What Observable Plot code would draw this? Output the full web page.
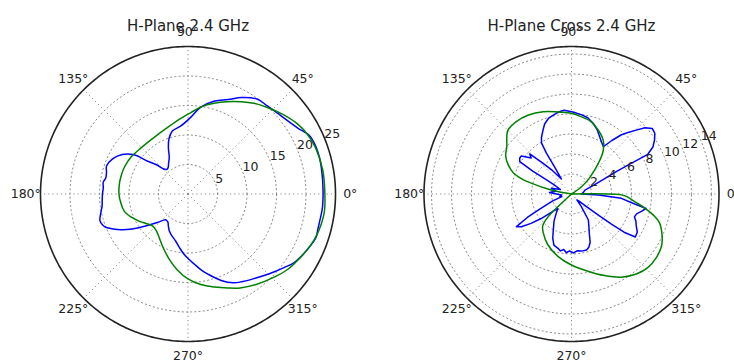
<!DOCTYPE html>
<html>
<head>
<meta charset="utf-8">
<script src="https://cdn.jsdelivr.net/npm/d3@7"></script>
<script src="https://cdn.jsdelivr.net/npm/@observablehq/plot@0.6"></script>
<style>
  html, body { margin: 0; padding: 0; background: #fff; }
  #wrap { display: flex; flex-direction: row; width: 734px; height: 364px; overflow: hidden; }
  #wrap svg { flex: none; }
</style>
</head>
<body>
<div id="wrap"></div>
<script>
// ---------- data (angles in degrees, radius in plot units) ----------
const thetaTicks = [0, 45, 90, 135, 180, 225, 270, 315];

// Left: H-Plane 2.4 GHz
const hTitle = "H-Plane 2.4 GHz";
const hRTicks = [5, 10, 15, 20, 25];
const hRMax = 25;
const hBlueDeg = [0, 7, 14, 21, 26, 31, 40, 48, 54, 61, 67, 74, 82, 88, 96, 104, 109, 113, 117, 122, 127, 131, 134, 137, 141, 144, 149, 155, 161, 165, 169, 172, 176, 180, 185, 188, 192, 197, 200, 202, 205, 208, 212, 215, 219, 223, 229, 233, 235, 238, 243, 249, 255, 261, 266, 271, 275, 280, 284, 291, 297, 302, 308, 313, 318, 323, 327, 331, 335, 341, 345, 349, 354, 360];
const hBlueR   = [22.9, 22.95, 23.1, 23.1, 22.8, 21.7, 20.6, 20.1, 19.9, 18.7, 17.4, 16.4, 14.8, 13.0, 11.6, 11.0, 9.9, 8.5, 7.0, 6.2, 5.6, 5.5, 5.9, 7.2, 8.9, 11.3, 13.0, 14.1, 14.6, 14.3, 14.2, 14.5, 14.4, 14.5, 14.6, 14.7, 15.1, 15.6, 15.4, 15.05, 14.0, 12.9, 11.2, 9.8, 8.3, 7.1, 5.8, 5.8, 5.9, 6.3, 7.0, 7.6, 8.2, 9.2, 10.2, 11.1, 11.9, 13.1, 14.0, 15.7, 16.9, 17.5, 18.2, 18.9, 19.7, 20.6, 21.4, 21.9, 22.3, 22.9, 22.8, 22.8, 22.9, 22.9];
const hGreenDeg = [0, 10, 20, 27, 33, 40, 47.5, 54, 60, 67, 74, 81, 88, 97, 107, 117, 128, 138, 147, 157, 166, 173, 180, 187, 195, 202, 209, 215, 222, 229, 236, 245, 255, 262, 270, 278, 286, 293, 299, 307, 316, 323, 331, 337, 343, 352, 360];
const hGreenR   = [23.2, 23.2, 23.0, 22.6, 22.0, 21.0, 19.9, 19.0, 18.05, 17.0, 16.0, 15.0, 13.8, 12.7, 11.8, 11.3, 11.1, 11.2, 11.5, 11.7, 11.75, 11.75, 11.7, 11.5, 11.2, 10.4, 9.5, 8.7, 8.1, 8.2, 8.8, 10.0, 11.7, 13.0, 14.4, 15.5, 16.4, 17.3, 18.2, 19.2, 20.3, 21.2, 21.9, 22.5, 22.95, 23.3, 23.2];

// Right: H-Plane Cross 2.4 GHz
const cTitle = "H-Plane Cross 2.4 GHz";
const cRTicks = [2, 4, 6, 8, 10, 12, 14];
const cRMax = 14.75;
const cBlueDeg = [0, 8, 16, 22, 25, 26.5, 27.2, 27.5, 30, 33, 36, 39, 42, 45, 48, 50, 53, 56, 60, 64, 68, 73, 78, 83, 89, 95, 99, 103, 107, 111, 114, 118, 120.5, 121.5, 122, 124, 129, 133, 136.2, 138.3, 142.8, 145.4, 148, 149.5, 150.5, 152, 158, 164, 170, 176, 180, 186, 192, 195, 200, 205.7, 208, 210.7, 213, 216, 219, 223, 227, 230, 237, 243, 247, 251, 256, 259, 262, 265, 268, 272, 276, 280, 285, 288, 291, 294, 298, 303, 308, 312, 316, 320, 322, 323, 324, 326, 330, 334, 337, 340, 343, 346, 349, 351, 355, 358, 360];
const cBlueR   = [1.0, 1.2, 1.4, 2.5, 3.8, 5.0, 6.5, 8.6, 9.4, 9.9, 10.3, 10.4, 9.9, 9.0, 8.2, 7.7, 6.7, 5.7, 6.0, 6.4, 6.9, 7.4, 7.8, 8.0, 8.2, 8.4, 8.3, 8.1, 7.9, 7.5, 7.0, 6.4, 5.9, 4.8, 3.2, 1.8, 3.0, 4.3, 5.8, 5.4, 6.3, 6.3, 6.1, 4.5, 3.0, 2.0, 1.2, 2.1, 1.6, 2.2, 1.5, 1.0, 1.2, 1.0, 2.0, 3.7, 5.0, 6.4, 6.0, 5.0, 3.9, 2.5, 2.0, 2.3, 3.2, 4.0, 4.8, 5.4, 5.6, 5.8, 5.6, 5.9, 5.7, 5.9, 5.7, 5.8, 5.8, 5.6, 5.2, 4.4, 3.7, 3.1, 1.6, 0.8, 1.0, 2.0, 3.5, 5.0, 6.5, 7.7, 7.6, 7.2, 7.0, 6.7, 6.8, 7.2, 7.6, 6.4, 5.0, 2.7, 1.0];
const cGreenDeg = [0, 33, 36, 41, 46, 50, 54, 60, 67, 75, 83, 91, 99, 109, 119, 127, 135, 144, 150, 155, 160, 163, 165, 168, 170, 172, 222, 223, 224.2, 228, 234, 245, 258, 270, 282, 292, 301, 309, 316, 323, 330, 335, 341.6, 345, 349, 353, 357, 359, 360];
const cGreenR   = [0, 0, 1.2, 2.3, 3.3, 4.4, 5.4, 6.3, 6.9, 7.5, 7.8, 8.1, 8.3, 8.7, 9.0, 9.1, 9.0, 8.0, 7.6, 7.0, 6.2, 5.2, 4.1, 2.5, 1.3, 0, 0, 1.4, 3.25, 4.3, 4.8, 5.6, 6.4, 7.1, 7.9, 8.8, 9.7, 10.3, 10.6, 10.6, 10.4, 10.0, 9.3, 8.6, 7.5, 6.4, 5.6, 5.0, 0];

const blueColor = "#0000ff";
const greenColor = "#008000";

// ---------- helpers ----------
const rad = d => d * Math.PI / 180;
const rows = (deg, r) => deg.map((t, i) => ({t, r: r[i]}));
const px = d => d.r * Math.cos(rad(d.t));
const py = d => d.r * Math.sin(rad(d.t));

function polarChart({title, rTicks, rMax, blue, green, blueCurve, cx, width, height, cy, R}) {
  const gridRings = rTicks.filter(v => v < rMax - 1e-6);
  const ringPts = [];
  for (const v of gridRings) for (let a = 0; a <= 360; a += 2) ringPts.push({t: a, r: v, ring: v});
  const outerPts = d3.range(0, 361, 1).map(a => ({t: a, r: rMax}));
  const spokes = thetaTicks.map(t => ({t, r: rMax}));
  const labelAngle = 22.5;
  return Plot.plot({
    width, height,
    marginLeft: cx - R,
    marginRight: width - cx - R,
    marginTop: cy - R,
    marginBottom: height - cy - R,
    x: {domain: [-rMax, rMax], axis: null},
    y: {domain: [-rMax, rMax], axis: null},
    style: {fontFamily: "'DejaVu Sans', sans-serif", fontSize: "12.5px", background: "white", color: "#222", overflow: "visible"},
    marks: [
      Plot.line(ringPts, {x: px, y: py, z: "ring", stroke: "#8a8a8a", strokeWidth: 1, strokeDasharray: "1.2,3", curve: "linear"}),
      Plot.link(spokes, {x1: 0, y1: 0, x2: px, y2: py, stroke: "#8a8a8a", strokeWidth: 1, strokeDasharray: "1.2,3"}),
      Plot.line(blue, {x: px, y: py, stroke: blueColor, strokeWidth: 1.5, curve: blueCurve}),
      Plot.line(green, {x: px, y: py, stroke: greenColor, strokeWidth: 1.5, curve: "catmull-rom"}),
      Plot.line(outerPts, {x: px, y: py, stroke: "#222", strokeWidth: 1.6}),
      Plot.text(rTicks, {
        x: v => v * Math.cos(rad(labelAngle)),
        y: v => v * Math.sin(rad(labelAngle)),
        text: v => String(v), textAnchor: "start", lineAnchor: "bottom", fill: "#222", fontSize: 12.5
      }),
      Plot.text(thetaTicks, {
        x: t => 1.1 * rMax * Math.cos(rad(t)),
        y: t => 1.1 * rMax * Math.sin(rad(t)),
        text: t => t + "\u00b0", fill: "#222", fontSize: 12.5
      }),
      Plot.text([title], {frameAnchor: "top", dy: -26, fontSize: 15, fill: "#222"})
    ]
  });
}

const wrap = document.getElementById("wrap");
wrap.append(polarChart({
  title: hTitle, rTicks: hRTicks, rMax: hRMax,
  blue: rows(hBlueDeg, hBlueR), green: rows(hGreenDeg, hGreenR), blueCurve: "catmull-rom",
  width: 367, height: 364, cx: 187.5, cy: 193.5, R: 147.5
}));
wrap.append(polarChart({
  title: cTitle, rTicks: cRTicks, rMax: cRMax,
  blue: rows(cBlueDeg, cBlueR), green: rows(cGreenDeg, cGreenR), blueCurve: "linear",
  width: 367, height: 364, cx: 204, cy: 193.5, R: 147.5
}));
</script>
</body>
</html>
